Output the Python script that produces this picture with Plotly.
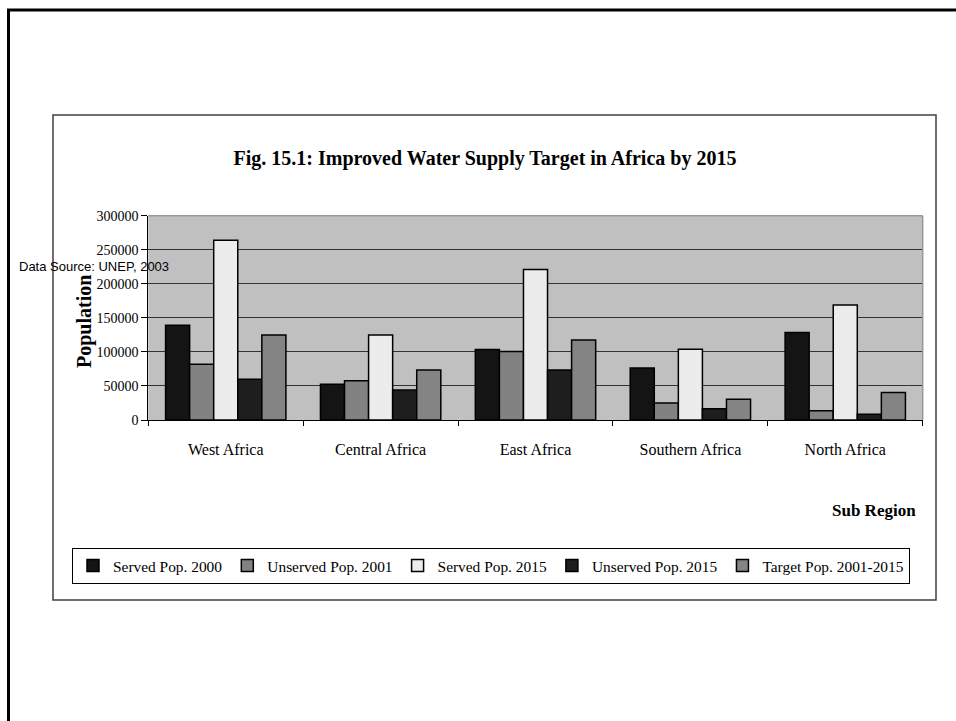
import plotly.graph_objects as go

W, H = 956, 721

regions = ["West Africa", "Central Africa", "East Africa", "Southern Africa", "North Africa"]

served_2000 = [139000, 52500, 103500, 76500, 128500]
unserved_2001 = [82000, 57500, 100500, 25000, 13500]
served_2015 = [264000, 125000, 221000, 104000, 169000]
unserved_2015 = [60000, 44000, 73500, 16500, 8500]
target_2001_2015 = [125000, 73500, 117500, 30500, 40500]

series_names = ["Served Pop. 2000", "Unserved Pop. 2001", "Served Pop. 2015",
                "Unserved Pop. 2015", "Target Pop. 2001-2015"]
series_values = [served_2000, unserved_2001, served_2015, unserved_2015, target_2001_2015]
series_colors = ["#141414", "#828282", "#ececec", "#1e1e1e", "#848484"]

y_ticks = [0, 50000, 100000, 150000, 200000, 250000, 300000]


def px(x):
    return x / W


def py(y):
    return 1 - y / H


SERIF = "Liberation Serif, Times New Roman, serif"

fig = go.Figure()
for name, vals, col in zip(series_names, series_values, series_colors):
    fig.add_trace(go.Bar(
        x=regions, y=vals, name=name,
        marker=dict(color=col, line=dict(color="#000000", width=1.5)),
    ))

fig.update_layout(
    width=W, height=H,
    margin=dict(l=0, r=0, t=0, b=0, autoexpand=False),
    paper_bgcolor="white",
    plot_bgcolor="#c0c0c0",
    barmode="group",
    bargap=0.223,
    bargroupgap=0,
    title=dict(
        text="<b>Fig. 15.1: Improved Water Supply Target in Africa by 2015</b>",
        x=px(485), y=py(158), xanchor="center", yanchor="middle",
        xref="paper", yref="paper",
        font=dict(family=SERIF, size=20, color="#000000"),
    ),
    xaxis=dict(
        domain=[px(148.3), px(922.7)],
        range=[-0.5, 4.5],
        showline=True, linecolor="#000000", linewidth=1,
        ticks="outside", ticklen=5, tickcolor="#000000", tickwidth=1,
        tickson="boundaries",
        ticklabelstandoff=15,
        tickfont=dict(family=SERIF, size=16, color="#000000"),
        showgrid=False, zeroline=False,
    ),
    yaxis=dict(
        domain=[py(420), py(215.7)],
        range=[0, 300000],
        tickvals=y_ticks,
        ticktext=[str(v) for v in y_ticks],
        showline=True, linecolor="#000000", linewidth=1,
        ticks="outside", ticklen=6, tickcolor="#000000", tickwidth=1,
        tickfont=dict(family=SERIF, size=14, color="#000000"),
        showgrid=True, gridcolor="#333333", gridwidth=1,
        zeroline=False,
    ),
    legend=dict(
        orientation="h",
        x=px(72), y=py(548), xanchor="left", yanchor="top",
        xref="paper", yref="paper",
        bgcolor="white", bordercolor="#000000", borderwidth=1,
        font=dict(family=SERIF, size=15.4, color="#000000"),
        itemwidth=30,
        traceorder="normal",
    ),
    showlegend=True,
)

shapes = [
    # outer frame (top and left edges)
    dict(type="line", xref="paper", yref="paper",
         x0=px(7), x1=px(960), y0=py(10), y1=py(10),
         line=dict(color="#000000", width=3)),
    dict(type="line", xref="paper", yref="paper",
         x0=px(8.5), x1=px(8.5), y0=py(9), y1=py(725),
         line=dict(color="#000000", width=3)),
    # chart area box
    dict(type="rect", xref="paper", yref="paper",
         x0=px(53), x1=px(936), y0=py(115), y1=py(600),
         line=dict(color="#404040", width=1.5), layer="below"),
    # plot area top and right borders
    dict(type="line", xref="x domain", yref="y domain",
         x0=0, x1=1, y0=1, y1=1, line=dict(color="#999999", width=1.5)),
    dict(type="line", xref="x domain", yref="y domain",
         x0=1, x1=1, y0=0, y1=1, line=dict(color="#999999", width=1.5)),
]
fig.update_layout(shapes=shapes)

annotations = [
    dict(text="<b>Population</b>", x=px(84), y=py(322), xref="paper", yref="paper",
         showarrow=False, textangle=-90, xanchor="center", yanchor="middle",
         font=dict(family=SERIF, size=20, color="#000000")),
    dict(text="<b>Sub Region</b>", x=px(874), y=py(510), xref="paper", yref="paper",
         showarrow=False, xanchor="center", yanchor="middle",
         font=dict(family=SERIF, size=17, color="#000000")),
    dict(text="Data Source: UNEP, 2003", x=px(17), y=py(266), xref="paper", yref="paper",
         showarrow=False, xanchor="left", yanchor="middle",
         font=dict(family="Liberation Sans, Arial, sans-serif", size=13, color="#000000")),
]
fig.update_layout(annotations=annotations)

fig.write_html("out.html")
